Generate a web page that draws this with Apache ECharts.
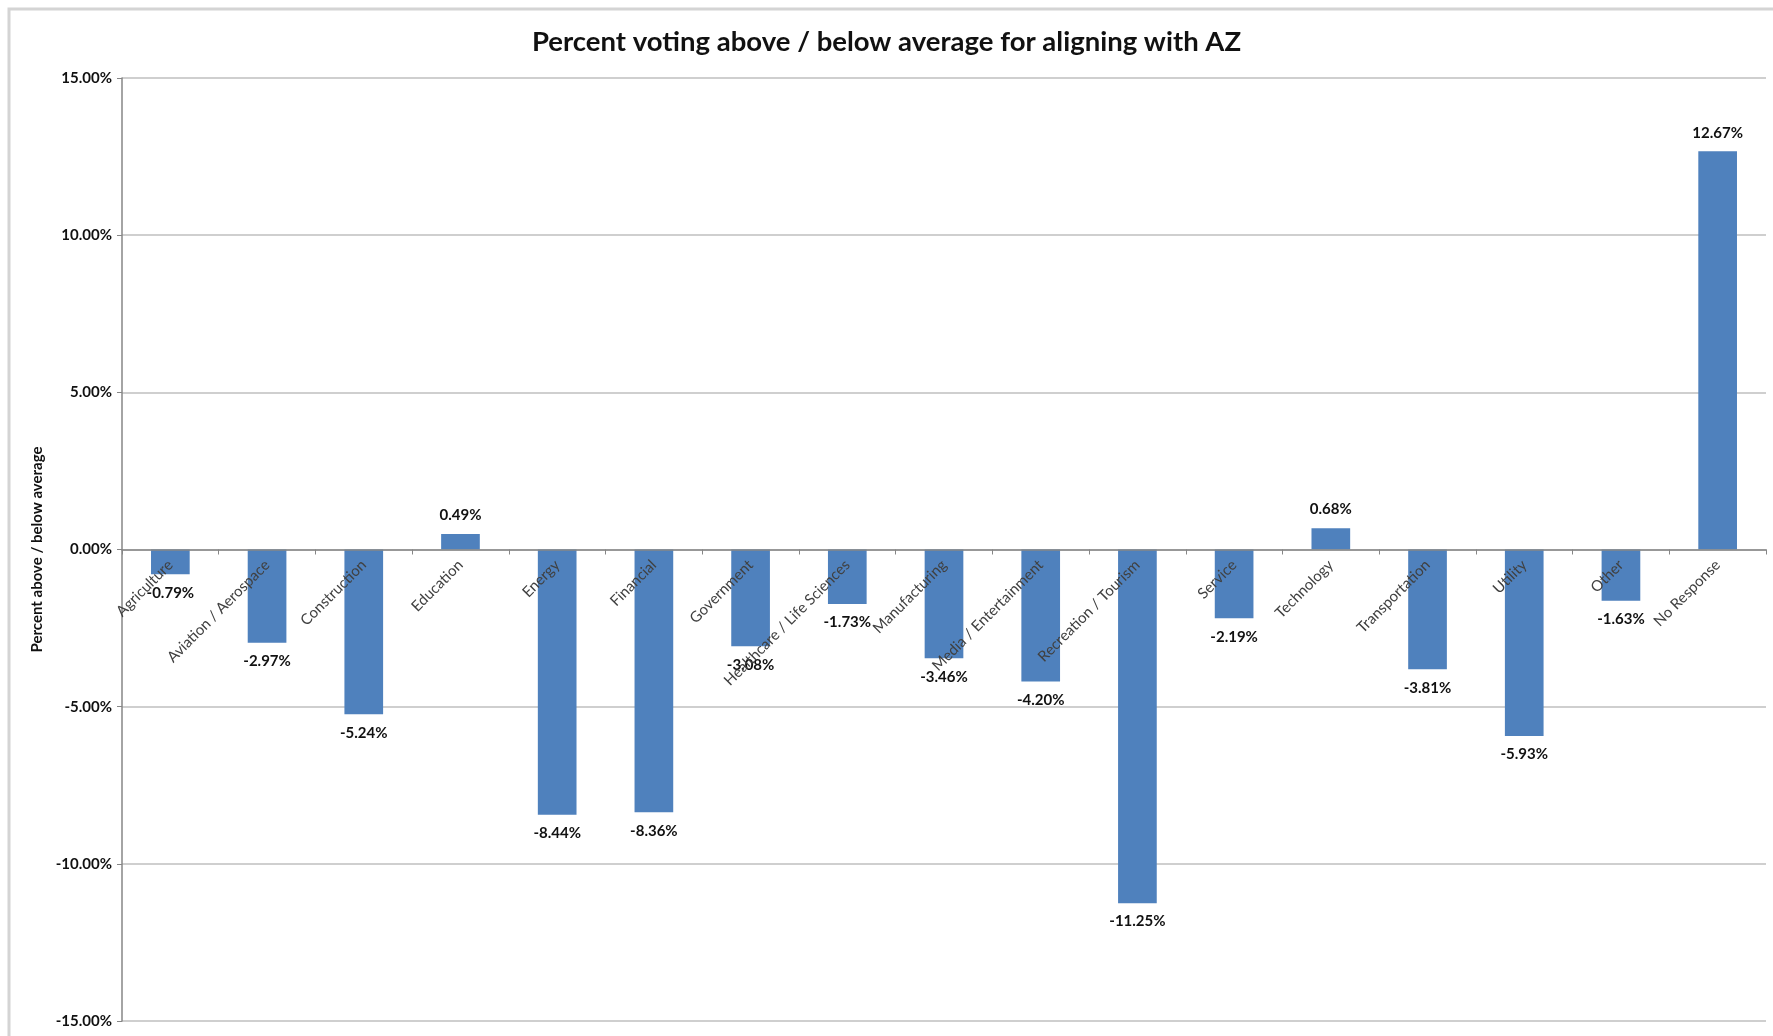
<!DOCTYPE html>
<html>
<head>
<meta charset="utf-8">
<script src="https://cdn.jsdelivr.net/npm/echarts@6/dist/echarts.min.js"></script>
<style>
  html, body { margin: 0; padding: 0; background: #fff; }
  #main { width: 1773px; height: 1036px; }
</style>
</head>
<body>
<div id="main"></div>
<script>
// industries, in the order shown
var categories = [
  'Agriculture', 'Aviation / Aerospace', 'Construction', 'Education', 'Energy',
  'Financial', 'Government', 'Healthcare / Life Sciences', 'Manufacturing',
  'Media / Entertainment', 'Recreation / Tourism', 'Service', 'Technology',
  'Transportation', 'Utility', 'Other', 'No Response'
];
// percent above / below average
var values = [
  -0.79, -2.97, -5.24, 0.49, -8.44,
  -8.36, -3.08, -1.73, -3.46,
  -4.20, -11.25, -2.19, 0.68,
  -3.81, -5.93, -1.63, 12.67
];
var yTicks = [-15, -10, -5, 0, 5, 10, 15];

var font = 'Lato, "Open Sans", sans-serif';
var chart = echarts.init(document.getElementById('main'));

var gridTop = 78, gridBottom = 15;
var plotH = 1036 - gridTop - gridBottom;
// category labels sit on the zero line, which is half way down
var zeroOffset = -plotH / 2;

var seriesData = values.map(function(v) {
  return {
    value: v,
    label: { position: v < 0 ? 'bottom' : 'top' }
  };
});

var option = {
  backgroundColor: '#fff',
  animation: false,
  graphic: [{
    type: 'rect',
    shape: { x: 9, y: 9, width: 1800, height: 1100 },
    style: { fill: 'none', stroke: '#d4d4d4', lineWidth: 3 },
    silent: true
  }],
  title: {
    text: 'Percent voting above / below average for aligning with AZ',
    left: 'center',
    top: 23,
    textStyle: { fontFamily: font, fontSize: 27.5, fontWeight: 'bold', color: '#111' }
  },
  grid: {
    left: 122, right: 7, top: gridTop, bottom: gridBottom,
    containLabel: false, outerBoundsMode: 'none'
  },
  xAxis: {
    type: 'category',
    data: categories,
    offset: zeroOffset,
    z: 10,
    axisLine: { onZero: false, lineStyle: { color: '#868686', width: 1.5 } },
    axisTick: { show: true, length: 5, lineStyle: { color: '#868686' } },
    axisLabel: {
      interval: 0,
      rotate: 45,
      margin: 13,
      fontFamily: font,
      fontSize: 15,
      color: '#404040'
    },
    splitLine: { show: false }
  },
  yAxis: {
    type: 'value',
    min: yTicks[0],
    max: yTicks[yTicks.length - 1],
    interval: 5,
    name: 'Percent above / below average',
    nameLocation: 'middle',
    nameGap: 74,
    nameRotate: 90,
    nameTextStyle: { fontFamily: font, fontSize: 15, fontWeight: 'bold', color: '#111' },
    axisLine: { show: true, lineStyle: { color: '#868686', width: 1.5 } },
    axisTick: { show: true, length: 5, lineStyle: { color: '#868686' } },
    axisLabel: {
      margin: 10,
      fontFamily: font,
      fontSize: 15,
      fontWeight: 'bold',
      color: '#111',
      formatter: function(v) { return v.toFixed(2) + '%'; }
    },
    splitLine: { show: true, lineStyle: { color: '#bfbfbf', width: 1.5 } }
  },
  series: [{
    type: 'bar',
    data: seriesData,
    barCategoryGap: '60%',
    itemStyle: { color: '#4f81bd' },
    label: {
      show: true,
      distance: 11,
      fontFamily: font,
      fontSize: 15,
      fontWeight: 'bold',
      color: '#111',
      formatter: function(p) { return p.value.toFixed(2) + '%'; }
    }
  }]
};

chart.setOption(option);
</script>
</body>
</html>
